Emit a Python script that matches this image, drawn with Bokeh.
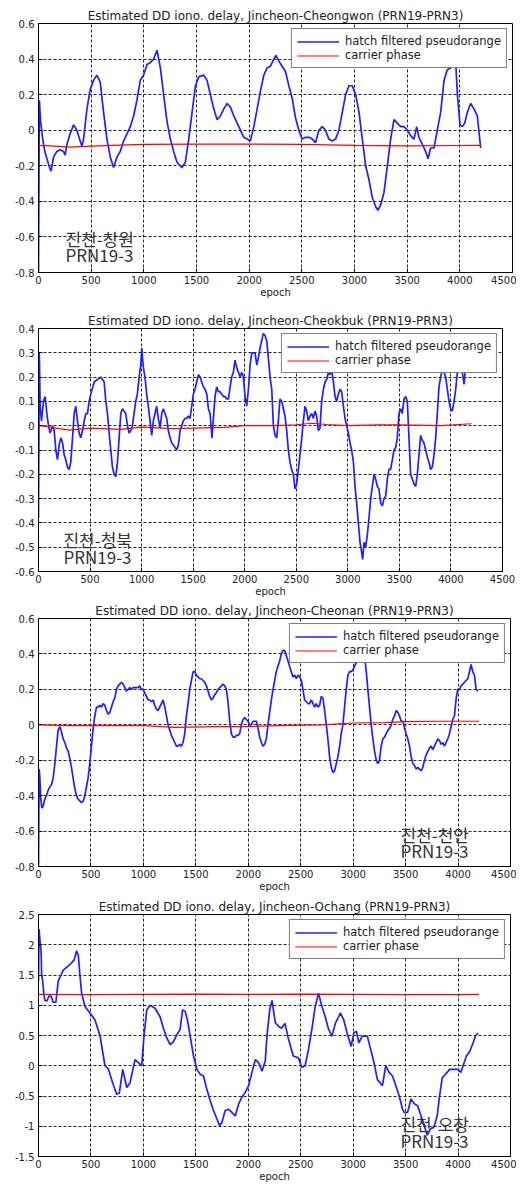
from bokeh.plotting import figure
from bokeh.layouts import column
from bokeh.models import FixedTicker, Label, Legend, LegendItem, Range1d
from bokeh.embed import file_html
from bokeh.resources import INLINE

# ---------------- data ----------------
x_ticks = [0, 500, 1000, 1500, 2000, 2500, 3000, 3500, 4000, 4500]

titles = [
    "Estimated DD iono. delay, Jincheon-Cheongwon (PRN19-PRN3)",
    "Estimated DD iono. delay, Jincheon-Cheokbuk (PRN19-PRN3)",
    "Estimated DD iono. delay, Jincheon-Cheonan (PRN19-PRN3)",
    "Estimated DD iono. delay, Jincheon-Ochang (PRN19-PRN3)",
]
series_names = ["hatch filtered pseudorange", "carrier phase"]
station_labels = ["진천-창원", "진천-청북", "진천-천안", "진천-오창"]
prn_label = "PRN19-3"

y_ticks_1 = [-0.8, -0.6, -0.4, -0.2, 0, 0.2, 0.4, 0.6]
y_ticks_2 = [-0.6, -0.5, -0.4, -0.3, -0.2, -0.1, 0, 0.1, 0.2, 0.3, 0.4]
y_ticks_3 = [-0.8, -0.6, -0.4, -0.2, 0, 0.2, 0.4, 0.6]
y_ticks_4 = [-1.5, -1, -0.5, 0, 0.5, 1, 1.5, 2, 2.5]

# panel 1: Jincheon-Cheongwon  (epoch, value)
p1_blue = [(0,-0.8),(8,0.17),(20,0.05),(40,-0.05),(60,-0.12),(90,-0.18),(111,-0.22),(120,-0.23),
    (143,-0.15),(174,-0.12),(206,-0.11),(238,-0.12),(253,-0.14),(270,-0.08),(300,-0.02),(333,0.03),
    (364,0.0),(396,-0.06),(412,-0.09),(428,-0.05),(460,0.12),(491,0.23),(523,0.28),(554,0.31),
    (586,0.27),(618,0.1),(650,-0.05),(681,-0.15),(713,-0.21),(745,-0.15),(776,-0.12),(808,-0.06),
    (840,-0.02),(871,0.02),(903,0.08),(935,0.17),(966,0.28),(998,0.31),(1030,0.37),(1061,0.38),
    (1093,0.40),(1125,0.45),(1157,0.35),(1188,0.2),(1220,0.05),(1252,-0.05),(1283,-0.12),(1315,-0.18),
    (1362,-0.21),(1394,-0.18),(1426,-0.05),(1458,0.1),(1490,0.25),(1521,0.30),(1568,0.31),(1600,0.28),
    (1632,0.2),(1664,0.12),(1695,0.06),(1727,0.08),(1759,0.12),(1791,0.15),(1822,0.13),(1854,0.08),
    (1886,0.04),(1917,0.0),(1949,-0.04),(1981,-0.05),(2012,-0.06),(2044,0.02),(2076,0.12),(2107,0.22),
    (2139,0.31),(2170,0.35),(2202,0.36),(2234,0.40),(2253,0.42),(2281,0.39),(2313,0.36),(2345,0.33),
    (2377,0.25),(2408,0.18),(2440,0.07),(2472,0.0),(2503,-0.05),(2535,-0.04),(2567,-0.04),(2599,-0.05),
    (2630,-0.07),(2662,0.0),(2694,0.02),(2725,0.0),(2757,-0.05),(2789,-0.06),(2820,-0.05),(2852,0.0),
    (2884,0.1),(2916,0.2),(2947,0.25),(2979,0.25),(3011,0.2),(3043,0.1),(3074,-0.05),(3106,-0.2),
    (3138,-0.28),(3170,-0.38),(3201,-0.43),(3223,-0.45),(3248,-0.42),(3280,-0.35),(3312,-0.2),(3343,-0.05),
    (3375,0.06),(3407,0.04),(3438,0.02),(3470,0.02),(3502,0.0),(3533,-0.03),(3565,-0.05),(3590,0.02),
    (3612,-0.04),(3644,-0.08),(3676,-0.12),(3698,-0.16),(3723,-0.1),(3755,-0.1),(3786,0.0),(3818,0.1),
    (3850,0.28),(3881,0.34),(3913,0.35),(3945,0.4),(3961,0.38),(3977,0.2),(4002,0.03),(4024,0.02),
    (4046,0.04),(4071,0.1),(4103,0.15),(4135,0.12),(4166,0.08),(4198,-0.1)]
p1_red = [(0,-0.085),(150,-0.09),(300,-0.095),(500,-0.09),(700,-0.085),(1000,-0.08),(1500,-0.078),
    (2000,-0.078),(2500,-0.08),(3000,-0.085),(3500,-0.088),(4000,-0.086),(4200,-0.085)]

# panel 2: Jincheon-Cheokbuk
p2_blue = [(0,-0.38),(8,0.3),(16,0.08),(29,0.02),(48,0.1),(65,0.12),(81,0.05),(97,0.0),(113,-0.03),
    (136,0.0),(152,-0.02),(168,-0.1),(184,-0.14),(200,-0.08),(217,-0.05),(233,-0.07),(249,-0.12),
    (265,-0.14),(281,-0.17),(297,-0.18),(313,-0.15),(330,-0.05),(346,0.05),(362,0.08),(378,0.02),
    (394,-0.03),(410,-0.05),(427,-0.02),(443,0.02),(459,0.05),(475,0.05),(491,0.1),(507,0.13),
    (540,0.18),(572,0.19),(604,0.2),(637,0.18),(653,0.1),(669,0.05),(685,-0.03),(701,-0.1),(717,-0.17),
    (734,-0.2),(750,-0.21),(766,-0.15),(782,-0.05),(798,0.05),(814,0.07),(830,0.06),(846,0.05),
    (863,0.0),(879,-0.03),(895,-0.02),(911,0.0),(927,0.05),(943,0.1),(959,0.13),(976,0.2),(992,0.25),
    (1001,0.32),(1017,0.24),(1033,0.2),(1049,0.13),(1065,0.08),(1082,0.02),(1098,-0.04),(1114,0.02),
    (1130,0.05),(1146,0.08),(1162,0.03),(1179,-0.01),(1195,0.05),(1211,0.07),(1227,0.05),(1243,0.03),
    (1259,-0.02),(1276,-0.05),(1292,-0.07),(1308,-0.08),(1324,-0.09),(1340,-0.1),(1357,-0.08),
    (1373,-0.02),(1389,0.0),(1405,0.02),(1421,0.03),(1437,0.03),(1454,0.04),(1470,0.03),(1486,0.08),
    (1502,0.13),(1518,0.15),(1534,0.18),(1551,0.21),(1567,0.2),(1583,0.18),(1599,0.16),(1615,0.15),
    (1632,0.13),(1648,0.07),(1664,0.05),(1673,0.0),(1683,-0.05),(1696,0.03),(1712,0.12),(1728,0.16),
    (1744,0.14),(1761,0.14),(1777,0.13),(1793,0.12),(1809,0.12),(1825,0.11),(1842,0.11),(1858,0.16),
    (1874,0.2),(1890,0.22),(1906,0.27),(1922,0.24),(1939,0.22),(1955,0.2),(1971,0.22),(1987,0.2),
    (2003,0.12),(2019,0.08),(2036,0.15),(2052,0.25),(2068,0.3),(2084,0.3),(2100,0.3),(2117,0.25),
    (2133,0.28),(2149,0.32),(2165,0.35),(2181,0.38),(2197,0.37),(2213,0.35),(2229,0.28),(2246,0.2),
    (2262,0.15),(2278,0.0),(2294,-0.04),(2310,-0.05),(2326,0.02),(2342,0.11),(2359,0.1),(2375,0.07),
    (2391,0.04),(2407,-0.02),(2423,-0.1),(2439,-0.15),(2455,-0.18),(2472,-0.2),(2488,-0.26),(2504,-0.24),
    (2520,-0.18),(2536,-0.12),(2553,-0.05),(2569,0.02),(2585,0.08),(2601,0.06),(2617,0.02),(2633,0.04),
    (2650,0.05),(2666,0.03),(2682,0.06),(2698,0.04),(2714,-0.02),(2730,-0.01),(2746,0.1),(2763,0.15),
    (2779,0.18),(2795,0.19),(2811,0.22),(2827,0.21),(2843,0.23),(2860,0.18),(2876,0.12),(2892,0.1),
    (2908,0.13),(2924,0.15),(2940,0.14),(2957,0.08),(2973,0.03),(2989,0.0),(3005,-0.03),(3021,-0.07),
    (3037,-0.1),(3054,-0.15),(3070,-0.25),(3086,-0.32),(3102,-0.4),(3118,-0.48),(3134,-0.52),(3144,-0.55),
    (3157,-0.48),(3173,-0.5),(3189,-0.45),(3205,-0.38),(3222,-0.3),(3238,-0.25),(3254,-0.2),(3270,-0.22),
    (3286,-0.25),(3302,-0.26),(3319,-0.32),(3335,-0.33),(3351,-0.3),(3367,-0.29),(3383,-0.22),(3399,-0.18),
    (3415,-0.18),(3432,-0.14),(3448,-0.1),(3464,-0.09),(3480,-0.05),(3496,0.05),(3512,0.07),(3528,0.05),
    (3545,0.11),(3561,0.12),(3577,0.1),(3593,-0.05),(3609,-0.2),(3626,-0.22),(3642,-0.24),(3658,-0.25),
    (3674,-0.2),(3690,-0.12),(3706,-0.04),(3722,-0.06),(3738,-0.07),(3755,-0.1),(3771,-0.13),(3787,-0.15),
    (3803,-0.18),(3819,-0.17),(3836,-0.12),(3852,-0.05),(3868,0.05),(3884,0.16),(3900,0.2),(3916,0.23),
    (3933,0.22),(3949,0.2),(3965,0.15),(3981,0.1),(3997,0.07),(4013,0.06),(4030,0.1),(4046,0.15),
    (4062,0.22),(4078,0.26),(4094,0.25),(4110,0.22),(4127,0.17),(4143,0.25),(4159,0.24),(4175,0.28),
    (4191,0.25)]
p2_red = [(0,0.0),(100,-0.005),(200,-0.012),(300,-0.018),(500,-0.01),(800,-0.015),(1000,-0.006),
    (1300,-0.012),(1500,-0.01),(1800,-0.007),(2000,0.0),(2300,0.0),(2500,0.004),(2650,0.01),
    (2800,0.005),(3000,0.0),(3300,0.003),(3500,0.003),(3900,0.0),(4200,0.008)]

# panel 3: Jincheon-Cheonan
p3_blue = [(0,-0.8),(6,-0.25),(13,-0.3),(22,-0.42),(32,-0.47),(44,-0.46),(60,-0.42),(76,-0.4),
    (92,-0.37),(108,-0.35),(124,-0.34),(140,-0.3),(156,-0.22),(172,-0.12),(187,-0.03),(203,-0.01),
    (219,-0.04),(235,-0.08),(251,-0.1),(267,-0.13),(283,-0.15),(299,-0.19),(314,-0.24),(330,-0.3),
    (346,-0.36),(362,-0.4),(378,-0.42),(394,-0.43),(410,-0.44),(426,-0.43),(442,-0.4),(457,-0.35),
    (473,-0.3),(489,-0.22),(505,-0.12),(521,-0.02),(537,0.05),(553,0.1),(569,0.1),(584,0.11),(600,0.1),
    (616,0.12),(632,0.11),(648,0.08),(664,0.06),(680,0.07),(696,0.1),(711,0.13),(727,0.15),(743,0.2),
    (759,0.22),(775,0.23),(791,0.24),(807,0.23),(823,0.21),(838,0.19),(854,0.2),(870,0.21),(886,0.2),
    (902,0.21),(918,0.21),(934,0.21),(950,0.21),(965,0.22),(981,0.2),(997,0.2),(1013,0.18),(1029,0.16),
    (1045,0.14),(1061,0.14),(1077,0.13),(1093,0.14),(1108,0.11),(1124,0.09),(1140,0.08),(1156,0.1),
    (1172,0.12),(1188,0.14),(1204,0.1),(1220,0.05),(1235,0.0),(1251,-0.03),(1267,-0.06),(1283,-0.08),
    (1299,-0.1),(1315,-0.12),(1331,-0.12),(1347,-0.11),(1363,-0.12),(1378,-0.1),(1394,-0.05),(1410,0.05),
    (1426,0.12),(1442,0.2),(1458,0.25),(1474,0.3),(1490,0.3),(1505,0.28),(1521,0.27),(1537,0.26),
    (1553,0.26),(1569,0.25),(1585,0.24),(1601,0.22),(1617,0.19),(1632,0.16),(1648,0.14),(1664,0.15),
    (1680,0.17),(1696,0.18),(1712,0.2),(1728,0.21),(1744,0.22),(1759,0.23),(1775,0.22),(1791,0.2),
    (1807,0.13),(1823,0.02),(1839,-0.05),(1855,-0.07),(1871,-0.07),(1886,-0.06),(1902,-0.06),(1918,-0.05),
    (1934,0.0),(1950,0.03),(1966,0.04),(1982,0.03),(1998,0.02),(2013,0.0),(2029,0.0),(2045,0.02),
    (2061,0.02),(2077,0.02),(2093,-0.02),(2109,-0.07),(2125,-0.1),(2140,-0.12),(2156,-0.11),(2172,-0.08),
    (2188,0.0),(2204,0.07),(2220,0.14),(2236,0.2),(2252,0.25),(2267,0.3),(2283,0.33),(2299,0.36),
    (2315,0.4),(2331,0.42),(2347,0.42),(2363,0.39),(2379,0.36),(2394,0.33),(2410,0.3),(2426,0.27),
    (2442,0.28),(2458,0.26),(2474,0.28),(2490,0.27),(2506,0.25),(2521,0.2),(2537,0.14),(2553,0.13),
    (2569,0.12),(2585,0.12),(2601,0.14),(2617,0.12),(2633,0.1),(2648,0.12),(2664,0.1),(2680,0.11),
    (2696,0.16),(2712,0.15),(2728,0.08),(2744,0.0),(2759,-0.08),(2775,-0.18),(2791,-0.24),(2807,-0.27),
    (2823,-0.26),(2839,-0.22),(2855,-0.18),(2871,-0.12),(2886,-0.05),(2902,0.0),(2918,0.1),(2934,0.2),
    (2950,0.28),(2966,0.3),(2982,0.3),(2998,0.31),(3013,0.33),(3029,0.35),(3045,0.38),(3061,0.39),
    (3077,0.42),(3093,0.42),(3109,0.38),(3125,0.3),(3140,0.2),(3156,0.1),(3172,0.0),(3188,-0.08),
    (3204,-0.15),(3220,-0.2),(3236,-0.22),(3251,-0.2),(3267,-0.12),(3283,-0.08),(3299,-0.07),(3315,-0.05),
    (3331,-0.03),(3347,-0.02),(3363,0.0),(3378,0.03),(3394,0.05),(3410,0.08),(3426,0.07),(3442,0.05),
    (3458,0.02),(3474,0.02),(3490,-0.02),(3505,-0.05),(3521,-0.08),(3537,-0.12),(3553,-0.18),(3569,-0.22),
    (3585,-0.23),(3601,-0.25),(3616,-0.24),(3632,-0.25),(3648,-0.26),(3664,-0.24),(3680,-0.2),(3696,-0.17),
    (3712,-0.15),(3728,-0.13),(3743,-0.12),(3759,-0.14),(3775,-0.12),(3791,-0.1),(3807,-0.08),(3823,-0.09),
    (3839,-0.11),(3855,-0.1),(3870,-0.12),(3886,-0.1),(3902,-0.08),(3918,-0.05),(3934,-0.01),(3950,0.03),
    (3966,0.05),(3982,0.15),(3997,0.2),(4013,0.2),(4029,0.22),(4045,0.23),(4061,0.24),(4077,0.25),
    (4093,0.26),(4109,0.3),(4124,0.34),(4140,0.3),(4156,0.28),(4172,0.2),(4190,0.19)]
p3_red = [(0,0.0),(300,-0.005),(500,-0.005),(1000,-0.005),(1300,-0.015),(1700,-0.01),(2000,-0.01),
    (2300,-0.005),(2700,0.0),(3000,0.01),(3300,0.012),(3500,0.018),(3800,0.02),(4200,0.02)]

# panel 4: Jincheon-Ochang
p4_blue = [(0,1.4),(5,2.26),(15,2.05),(25,1.9),(30,1.5),(40,1.4),(50,1.2),(60,1.08),(80,1.07),
    (100,1.15),(120,1.15),(140,1.05),(166,1.05),(188,1.4),(236,1.58),(299,1.67),(340,1.75),(363,1.9),
    (380,1.82),(395,1.5),(411,1.2),(443,0.98),(490,0.87),(538,0.76),(586,0.5),(634,0.0),(665,-0.05),
    (707,-0.28),(745,-0.47),(771,-0.45),(803,-0.06),(841,-0.36),(873,-0.28),(920,0.1),(952,0.05),
    (984,0.0),(1006,0.5),(1032,0.92),(1064,1.0),(1111,0.95),(1159,0.81),(1191,0.62),(1223,0.46),
    (1255,0.35),(1287,0.4),(1318,0.51),(1350,0.6),(1373,0.92),(1398,0.9),(1420,0.76),(1446,0.49),
    (1478,0.16),(1510,-0.06),(1541,-0.14),(1573,-0.17),(1605,-0.39),(1637,-0.58),(1669,-0.74),
    (1701,-0.88),(1726,-0.99),(1748,-0.94),(1780,-0.74),(1812,-0.72),(1844,-0.77),(1876,-0.83),
    (1908,-0.63),(1939,-0.52),(1971,-0.44),(2003,-0.33),(2035,-0.11),(2067,0.1),(2099,0.05),
    (2131,-0.09),(2162,0.08),(2178,0.49),(2204,0.92),(2226,1.08),(2258,0.71),(2290,0.65),(2317,0.62),
    (2349,0.7),(2381,0.46),(2429,0.16),(2478,0.13),(2510,-0.03),(2542,0.0),(2574,0.27),(2606,0.6),
    (2638,0.98),(2670,1.2),(2702,0.98),(2734,0.81),(2766,0.6),(2798,0.49),(2830,0.7),(2878,0.87),
    (2910,0.76),(2942,0.54),(2981,0.32),(3006,0.54),(3032,0.57),(3054,0.38),(3087,0.49),(3135,0.49),
    (3167,0.27),(3199,0.05),(3231,-0.23),(3279,-0.33),(3311,0.0),(3343,-0.11),(3375,-0.17),(3407,-0.33),
    (3439,-0.5),(3471,-0.72),(3487,-0.77),(3519,-0.77),(3551,-0.55),(3583,-0.63),(3615,-0.66),
    (3647,-0.83),(3679,-0.99),(3705,-1.15),(3737,-1.04),(3769,-1.02),(3801,-0.83),(3824,-0.5),
    (3849,-0.2),(3881,-0.14),(3920,-0.06),(3968,-0.06),(4000,-0.06),(4026,-0.11),(4048,0.0),
    (4080,0.16),(4112,0.24),(4144,0.38),(4167,0.5),(4192,0.54)]
p4_red = [(0,1.18),(500,1.175),(1000,1.18),(1500,1.185),(2000,1.18),(2500,1.185),(3000,1.18),
    (3500,1.175),(4000,1.175),(4200,1.18)]

# ---------------- drawing ----------------
FONT = "DejaVu Sans"


def fmt(v):
    return f"{v:g}"


def make_panel(title, blue, red, y_ticks, station, label_x, label_y1, label_y2,
               fw, fh, b_left, b_right, b_top, b_bottom):
    p = figure(frame_width=fw, frame_height=fh, output_backend="svg", toolbar_location=None,
               x_range=Range1d(x_ticks[0], x_ticks[-1]), y_range=Range1d(y_ticks[0], y_ticks[-1]),
               min_border_left=b_left, min_border_right=b_right,
               min_border_top=b_top, min_border_bottom=b_bottom)
    p.background_fill_color = "white"
    p.border_fill_color = "white"
    p.outline_line_color = "black"
    p.outline_line_width = 1
    p.outline_line_alpha = 1

    p.title.text = title
    p.title.text_font = FONT
    p.title.text_font_size = "12px"
    p.title.text_font_style = "normal"
    p.title.text_color = "#222222"
    p.title.align = "center"
    p.title.standoff = 2

    p.xaxis.ticker = FixedTicker(ticks=x_ticks)
    p.yaxis.ticker = FixedTicker(ticks=y_ticks)
    p.xaxis.major_label_overrides = {t: fmt(t) for t in x_ticks}
    p.yaxis.major_label_overrides = {t: fmt(t) for t in y_ticks}
    for ax in (p.xaxis, p.yaxis):
        ax.major_tick_in = 4
        ax.major_tick_out = 0
        ax.minor_tick_line_color = None
        ax.axis_line_color = "black"
        ax.major_tick_line_color = "black"
        ax.major_label_text_font = FONT
        ax.major_label_text_font_size = "10px"
        ax.major_label_text_color = "#222222"
        ax.major_label_standoff = 4
    p.xaxis.major_label_standoff = 3
    p.xaxis.axis_label = "epoch"
    p.xaxis.axis_label_text_font = FONT
    p.xaxis.axis_label_text_font_size = "10px"
    p.xaxis.axis_label_text_font_style = "normal"
    p.xaxis.axis_label_text_color = "#222222"
    p.xaxis.axis_label_standoff = 0

    p.xgrid.ticker = FixedTicker(ticks=x_ticks)
    p.ygrid.ticker = FixedTicker(ticks=y_ticks)
    for g in (p.xgrid, p.ygrid):
        g.grid_line_color = "black"
        g.grid_line_dash = "3 2"
        g.grid_line_alpha = 0.85
        g.grid_line_width = 1

    bx = [t for t, _ in blue]
    by = [v for _, v in blue]
    rx = [t for t, _ in red]
    ry = [v for _, v in red]
    rb = p.line(bx, by, line_color="#1f1fff", line_width=1.7)
    rr = p.line(rx, ry, line_color="#ff0000", line_width=1.2)

    p.add_layout(Label(x=label_x, y=label_y1, text=station, text_font="Noto Sans CJK KR",
                       text_font_size="17px", text_color="#333333", text_baseline="middle"))
    p.add_layout(Label(x=label_x, y=label_y2, text=prn_label, text_font="Noto Sans CJK KR",
                       text_font_size="17px", text_color="#333333", text_baseline="middle"))

    legend = Legend(items=[LegendItem(label=series_names[0], renderers=[rb]),
                           LegendItem(label=series_names[1], renderers=[rr])],
                    location="top_right")
    legend.label_text_font = FONT
    legend.label_text_font_size = "11.5px"
    legend.label_text_color = "#222222"
    legend.glyph_width = 42
    legend.glyph_height = 11
    legend.label_height = 11
    legend.label_standoff = 6
    legend.spacing = 0
    legend.padding = 5
    legend.margin = 5
    legend.border_line_color = "black"
    legend.border_line_width = 1
    legend.background_fill_alpha = 1
    p.add_layout(legend)
    return p


p1 = make_panel(titles[0], p1_blue, p1_red, y_ticks_1, station_labels[0], 256, -0.61, -0.70,
                474, 249, 38, 4, 23, 27)
p2 = make_panel(titles[1], p2_blue, p2_red, y_ticks_2, station_labels[1], 242, -0.468, -0.538,
                464, 243, 38, 14, 28, 27)
p3 = make_panel(titles[2], p3_blue, p3_red, y_ticks_3, station_labels[2], 3451, -0.62, -0.71,
                472, 248, 36, 8, 19, 27)
p4 = make_panel(titles[3], p4_blue, p4_red, y_ticks_4, station_labels[3], 3451, -0.96, -1.24,
                472, 242, 36, 8, 20, 27)

layout = column(p1, p2, p3, p4, spacing=0)
open("out.html", "w").write(file_html(layout, INLINE))
